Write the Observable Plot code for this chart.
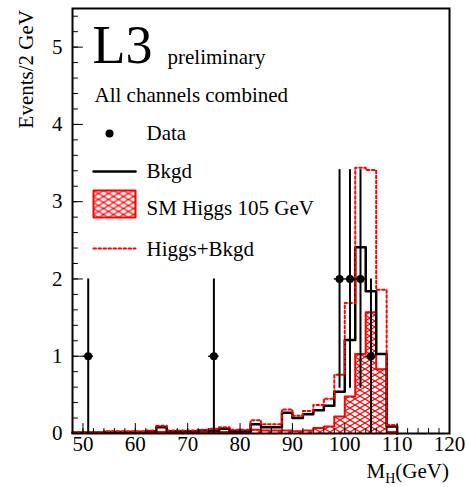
<!DOCTYPE html>
<html><head><meta charset="utf-8">
<script src="https://cdn.jsdelivr.net/npm/d3@7"></script>
<script src="https://cdn.jsdelivr.net/npm/@observablehq/plot@0.6"></script>
<style>body{margin:0;background:#fff} svg{display:block} svg text{font-family:"Liberation Serif","Times New Roman",serif}</style>
</head><body><div id="chart"></div>
<script>
// Histogram bins (lower edges, GeV), 2 GeV wide
const binLow = [48,50,52,54,56,58,60,62,64,66,68,70,72,74,76,78,80,82,84,86,88,90,92,94,96,98,100,102,104,106,108];
const binWidth = 2;
const bkgd = [0.01,0.01,0.01,0.02,0.02,0.02,0.02,0.03,0.08,0.03,0.03,0.03,0.04,0.04,0.06,0.03,0.03,0.12,0.08,0.08,0.27,0.20,0.25,0.30,0.36,0.54,1.21,2.41,1.84,1.03,0.09];
const higgs = [0.01,0.01,0.01,0.01,0.01,0.01,0.01,0.01,0.02,0.01,0.01,0.01,0.01,0.02,0.02,0.02,0.02,0.05,0.04,0.04,0.04,0.03,0.04,0.07,0.09,0.22,0.48,1.03,1.57,0.83,0.02];
const higgsPlusBkgd = [0.02,0.02,0.02,0.03,0.03,0.03,0.03,0.04,0.10,0.04,0.04,0.04,0.05,0.06,0.08,0.05,0.05,0.17,0.12,0.12,0.31,0.23,0.29,0.37,0.45,0.76,1.69,3.44,3.41,1.86,0.11];
// Data points
const dataMass = [51,75,99,101,103,105];
const dataEvents = [1,1,2,2,2,1];
// Axis ticks
const xTicks = [50,60,70,80,90,100,110,120];
const yTicks = [0,1,2,3,4,5];
const xMinorTicks = d3.range(48, 121, 2);
const yMinorTicks = d3.range(0, 5.5, 0.2);

const steps = binLow.map((x, i) => ({x, bkgd: bkgd[i], higgs: higgs[i], sum: higgsPlusBkgd[i]}));
steps.push({x: binLow[binLow.length - 1] + binWidth, bkgd: 0, higgs: 0, sum: 0});
const points = dataMass.map((m, i) => ({m, n: dataEvents[i]}));

const tickShape = {draw(ctx, l) { ctx.moveTo(0, 0); ctx.lineTo(0, -l); }};
const boxShape = {draw(ctx) { ctx.rect(0, 0, 42, 27); }};
const font = "Liberation Serif";
const fs = 21;

const chart = Plot.plot({
  width: 466, height: 487,
  marginLeft: 72, marginRight: 17, marginTop: 8, marginBottom: 54,
  style: {fontFamily: font, fontSize: fs + "px", background: "white", color: "black"},
  x: {domain: [48, 120]},
  y: {domain: [0, 5.5]},
  marks: [
    Plot.areaY(steps, {x: "x", y: "higgs", curve: "step-after", fill: "url(#hatch)"}),
    Plot.line(steps, {x: "x", y: "higgs", curve: "step-after", stroke: "#ff0000", strokeWidth: 2}),
    Plot.line(steps, {x: "x", y: "bkgd", curve: "step-after", stroke: "black", strokeWidth: 2.5}),
    Plot.line(steps, {x: "x", y: "sum", curve: "step-after", stroke: "#ff0000", strokeWidth: 2, strokeDasharray: "2.5,2.5"}),
    Plot.ruleX(points, {x: "m", y1: d => d.n - Math.sqrt(d.n), y2: d => d.n + Math.sqrt(d.n), stroke: "black", strokeWidth: 2}),
    Plot.ruleY(points, {y: "n", x1: d => d.m - binWidth / 2, x2: d => d.m + binWidth / 2, stroke: "black", strokeWidth: 1.5}),
    Plot.dot(points, {x: "m", y: "n", r: 4, fill: "black"}),
    // inside ticks
    Plot.vector(xMinorTicks, {x: d => d, frameAnchor: "bottom", length: 5, shape: tickShape, anchor: "start", stroke: "black", strokeWidth: 1}),
    Plot.vector(xTicks, {x: d => d, frameAnchor: "bottom", length: 10, shape: tickShape, anchor: "start", stroke: "black", strokeWidth: 1}),
    Plot.vector(yMinorTicks, {y: d => d, frameAnchor: "left", length: 5, rotate: 90, shape: tickShape, anchor: "start", stroke: "black", strokeWidth: 1}),
    Plot.vector(yTicks, {y: d => d, frameAnchor: "left", length: 10, rotate: 90, shape: tickShape, anchor: "start", stroke: "black", strokeWidth: 1}),
    Plot.axisX(xTicks, {anchor: "bottom", tickSize: 0, tickPadding: 3, fontSize: fs, fontFamily: font, tickFormat: d => String(d), label: null}),
    Plot.axisY(yTicks, {anchor: "left", tickSize: 0, tickPadding: 10, fontSize: fs, fontFamily: font, tickFormat: d => String(d), label: null}),
    Plot.frame({stroke: "black", strokeWidth: 2}),
    // header texts
    Plot.text(["L3"], {frameAnchor: "top-left", textAnchor: "start", lineAnchor: "bottom", dx: 20, dy: 54, fontSize: 54, fontFamily: font}),
    Plot.text(["preliminary"], {frameAnchor: "top-left", textAnchor: "start", lineAnchor: "bottom", dx: 95, dy: 55, fontSize: fs, fontFamily: font}),
    Plot.text(["All channels combined"], {frameAnchor: "top-left", textAnchor: "start", lineAnchor: "bottom", dx: 22, dy: 93, fontSize: fs, fontFamily: font}),
    // legend
    Plot.dot([0], {frameAnchor: "top-left", dx: 37, dy: 125, r: 4, fill: "black"}),
    Plot.text(["Data"], {frameAnchor: "top-left", textAnchor: "start", lineAnchor: "bottom", dx: 74, dy: 131, fontSize: fs, fontFamily: font}),
    Plot.vector([0], {frameAnchor: "top-left", dx: 21, dy: 163, length: 42, rotate: 90, shape: tickShape, anchor: "start", stroke: "black", strokeWidth: 2.5}),
    Plot.text(["Bkgd"], {frameAnchor: "top-left", textAnchor: "start", lineAnchor: "bottom", dx: 74, dy: 169, fontSize: fs, fontFamily: font}),
    Plot.vector([0], {frameAnchor: "top-left", dx: 21, dy: 182, length: 1, shape: boxShape, anchor: "start", fill: "url(#hatch)", stroke: "#ff0000", strokeWidth: 2}),
    Plot.text(["SM Higgs 105 GeV"], {frameAnchor: "top-left", textAnchor: "start", lineAnchor: "bottom", dx: 74, dy: 206, fontSize: fs, fontFamily: font}),
    Plot.vector([0], {frameAnchor: "top-left", dx: 21, dy: 240, length: 42, rotate: 90, shape: tickShape, anchor: "start", stroke: "#ff0000", strokeWidth: 2, strokeDasharray: "2.5,2.5"}),
    Plot.text(["Higgs+Bkgd"], {frameAnchor: "top-left", textAnchor: "start", lineAnchor: "bottom", dx: 74, dy: 247, fontSize: fs, fontFamily: font})
  ]
});

const svg = d3.select(chart);
const defs = svg.insert("defs", ":first-child");
const pat = defs.append("pattern").attr("id", "hatch").attr("patternUnits", "userSpaceOnUse")
  .attr("width", 10).attr("height", 6);
pat.append("path").attr("d", "M0,0L10,6M0,6L10,0").attr("stroke", "#ff0000").attr("stroke-width", 1.1).attr("fill", "none");

// y-axis title, rotated, aligned to the top of the frame
svg.append("text").attr("transform", "translate(33,10) rotate(-90)").attr("text-anchor", "end")
  .attr("font-family", font).attr("font-size", fs).attr("fill", "black").text("Events/2 GeV");

// x-axis title with subscript
const xt = svg.append("text").attr("x", 449).attr("y", 478).attr("text-anchor", "end")
  .attr("font-family", font).attr("font-size", fs).attr("fill", "black");
xt.append("tspan").text("M");
xt.append("tspan").attr("font-size", 14).attr("dy", 5).text("H");
xt.append("tspan").attr("dy", -5).text("(GeV)");

document.getElementById("chart").appendChild(chart);
</script>
</body></html>
